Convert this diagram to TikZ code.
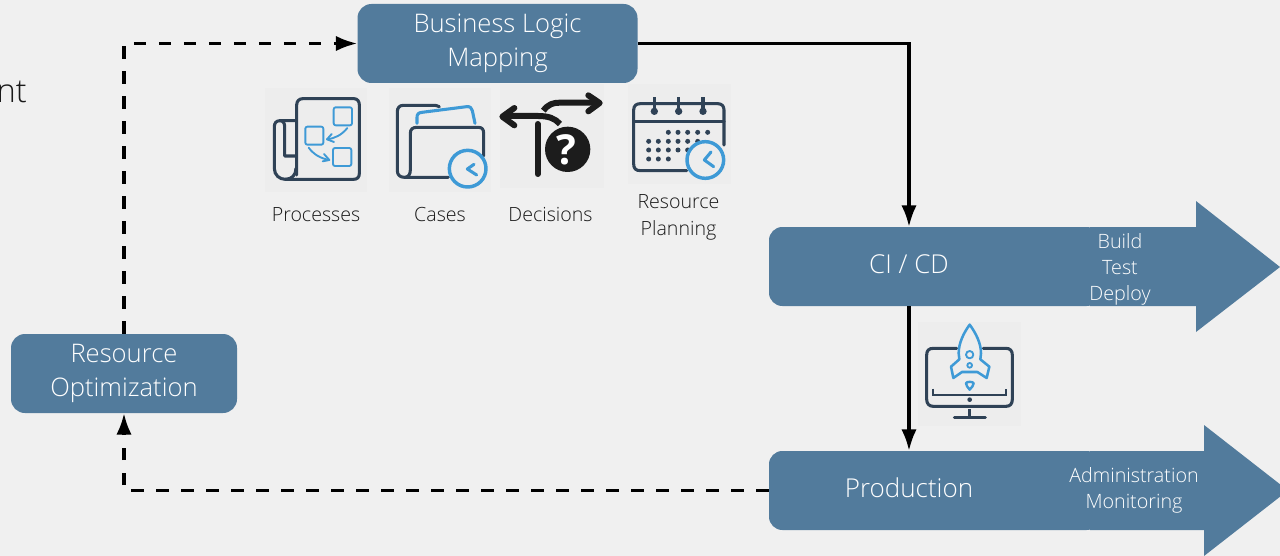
\documentclass[tikz,border=0pt]{standalone}
\usepackage{fontspec}
\setmainfont{Open Sans Light}
\newfontfamily\qmarkfont{Open Sans}[UprightFont=* Bold]
\usetikzlibrary{arrows.meta,patterns}
\definecolor{bg}{HTML}{F0F0F0}
\definecolor{band}{HTML}{527B9C}
\definecolor{ink}{HTML}{2F4256}
\definecolor{sky}{HTML}{3E9AD6}
\definecolor{blackish}{HTML}{1C1C1C}
\definecolor{tile}{HTML}{EDEDED}
\tikzset{
 x=0.75pt,y=-0.75pt,
 box/.style={fill=band,rounded corners=10.5pt,text=white,minimum width=210pt,minimum height=59.25pt,inner sep=0pt,align=center,font=\fontsize{19.2}{25.5}\selectfont},
 bandbody/.style={minimum width=210pt,minimum height=59.25pt,inner sep=0pt},
 bandlabel/.style={text=white,inner sep=0pt,font=\fontsize{19.5}{25}\selectfont},
 bandfill/.style={fill=band},
 smalltext/.style={text=white,align=center,font=\fontsize{14.8}{19.5}\selectfont,inner sep=0pt},
 caption/.style={text=black!90,align=center,font=\fontsize{14.7}{20}\selectfont,inner sep=0pt},
 solidflow/.style={draw=black,line width=2.3pt,-{Latex[length=16pt,width=11.5pt]}},
 dashflow/.style={draw=black,line width=2.3pt,dash pattern=on 9.5pt off 9.25pt,-{Latex[length=16pt,width=11.5pt]}},
 tileback/.style={fill=tile},
 inkline/.style={draw=ink,line width=2.3pt,line cap=round,line join=round},
 skyline/.style={draw=sky,line width=1.4pt,line cap=round,line join=round},
 skythick/.style={draw=sky,line width=2.3pt,line cap=round,line join=round},
 blackline/.style={draw=blackish,line width=4.5pt,line join=round},
}
\begin{document}
\begin{tikzpicture}
\useasboundingbox (0,0) rectangle (1280,556);
\clip (0,0) rectangle (1280,556);
\fill[bg] (0,0) rectangle (1280,556);
% clipped word
\node[anchor=base east,inner sep=0pt,text=black!90,font=\fontsize{24.5}{28}\selectfont] (cut) at (27,103) {nt};
% bands
\fill[bandfill,rounded corners=10pt] (1100,227) -- (769,227) -- (769,306) -- (1100,306) -- cycle;
\fill[bandfill] (1090,227) -- (1196,227) -- (1196,201) -- (1280,267) -- (1196,332) -- (1196,306) -- (1090,306) -- cycle;
\fill[bandfill,rounded corners=10pt] (1100,451) -- (769,451) -- (769,530) -- (1100,530) -- cycle;
\fill[bandfill] (1090,451) -- (1204,451) -- (1204,425) -- (1288,490.5) -- (1204,556) -- (1204,530) -- (1090,530) -- cycle;
\node[bandbody] (cicd) at (909,266.5) {};
\node[bandbody] (prod) at (909,490.5) {};
\node[bandlabel] (cilabel) at (909,264.5) {CI / CD};
\node[bandlabel] (prodlabel) at (909,487.8) {Production};
\node[smalltext] (cilist) at (1120,269) {Build\\Test\\Deploy};
\node[smalltext] (prodlist) at (1134,490) {Administration\\Monitoring};
% boxes
\node[box] (bl) at (497.5,43.5) {\raisebox{0.75pt}{\parbox{200pt}{\centering Business Logic\\Mapping}}};
\node[box,minimum width=169.5pt] (res) at (124,373.5) {\raisebox{0.75pt}{\parbox{160pt}{\centering Resource\\Optimization}}};
% connectors
\coordinate (blturn) at (cicd.north |- bl.east);
\coordinate (prodturn) at (res.south |- prod.west);
\coordinate (resturn) at (res.north |- bl.west);
\draw[solidflow] (bl.east) -- (blturn) -- (cicd.north);
\draw[solidflow] (cicd.south) -- (prod.north);
\draw[dashflow] (prod.west) -- (prodturn) -- (res.south);
\draw[dashflow] (res.north) -- (resturn) -- (bl.west);
% tiles
\fill[tileback] (265,88) rectangle (367,192);
\fill[tileback] (389,88) rectangle (491,192);
\fill[tileback] (500,84) rectangle (604,188);
\fill[tileback] (628,84) rectangle (731,184);
\fill[tileback] (918,322) rectangle (1021,426);
% Processes icon
\begin{scope}[shift={(260,80)},scale=1/3]
 \draw[inkline] (110,285) -- (110,75) .. controls (110,63) and (118,56) .. (128,56) -- (282,56) .. controls (293,56) and (298,65) .. (298,75) -- (298,280) .. controls (298,292) and (292,298) .. (280,298) -- (76,298);
 \draw[inkline] (108,122) -- (60,122) .. controls (48,122) and (43,130) .. (43,140) -- (43,265) .. controls (43,285) and (58,298) .. (76,298) .. controls (95,298) and (108,285) .. (108,265);
 \draw[inkline] (60,122) .. controls (70,122) and (74,130) .. (74,140) -- (74,228) -- (108,228);
 \draw[skyline,rounded corners=1.5pt] (221,82) rectangle (276,136);
 \draw[skyline,rounded corners=1.5pt] (136,140) rectangle (190,194);
 \draw[skyline,rounded corners=1.5pt] (219,204) rectangle (274,258);
 \draw[skyline] (262,144) .. controls (245,165) and (225,175) .. (201,178);
 \draw[skyline] (215,162) -- (201,178) -- (222,186);
 \draw[skyline] (146,203) .. controls (160,222) and (180,235) .. (208,240);
 \draw[skyline] (192,222) -- (208,240) -- (188,244);
\end{scope}
% Cases icon
\begin{scope}[shift={(260,80)},scale=1/3]
 \draw[inkline] (538,80) .. controls (530,76) and (525,76) .. (520,76) -- (430,76) .. controls (418,76) and (412,84) .. (412,95) -- (412,272) .. controls (412,285) and (420,292) .. (434,292) -- (565,292);
 \draw[inkline] (436,292) .. controls (446,290) and (451,282) .. (451,270) -- (451,160) .. controls (451,148) and (458,142) .. (470,142) -- (655,142) .. controls (666,142) and (671,148) .. (671,160) -- (671,228);
 \draw[skythick] (471,130) -- (471,112) .. controls (471,102) and (476,98) .. (486,97) -- (620,80) .. controls (630,79) and (636,84) .. (637,92) -- (645,130);
 \draw[skythick,fill=tile,line width=2.6pt] (623,266) circle (55);
 \draw[skythick] (642,253) -- (622,267) -- (650,285);
\end{scope}
% Decisions icon
\begin{scope}[shift={(495,80)},scale=1/3]
 \draw[blackline] (145,92) .. controls (160,72) and (175,68) .. (195,68) -- (310,68);
 \draw[blackline,line cap=round] (280,46) -- (314,69) -- (280,94);
 \draw[blackline] (195,132) .. controls (180,115) and (160,108) .. (130,108) -- (25,108);
 \draw[blackline,line cap=round] (58,84) -- (22,110) -- (58,136);
 \draw[blackish,line width=4.5pt,line cap=round] (128,132) -- (128,282);
 \fill[blackish] (218,208) circle (68);
 \node[text=white,font=\qmarkfont\fontsize{31}{31}\selectfont,inner sep=0pt] (qm) at (215,210) {?};
\end{scope}
% Resource Planning icon
\begin{scope}[shift={(495,80)},scale=1/3]
 \draw[inkline] (575,272) -- (436,272) .. controls (422,272) and (416,265) .. (416,252) -- (416,90) .. controls (416,77) and (424,71) .. (436,71) -- (668,71) .. controls (680,71) and (687,78) .. (687,90) -- (687,195);
 \draw[inkline] (416,124) -- (687,124);
 \foreach \cx in {478,551,624}{
  \draw[ink,line width=2.3pt] (\cx,52) -- (\cx,92);
  \fill[ink] (\cx,94) circle (11);
 }
 \foreach \cx in {520,549,578,608,638}{\fill[ink] (\cx,157) circle (7.5);}
 \foreach \cx in {461,490,520,549,578,608}{\fill[ink] (\cx,184) circle (7.5);}
 \foreach \cx in {461,490,520,549,578}{\fill[ink] (\cx,210) circle (7.5);}
 \foreach \cx in {461,490,520}{\fill[ink] (\cx,237) circle (7.5);}
 \draw[skythick,fill=tile,line width=2.6pt] (631,240) circle (55);
 \draw[skythick] (648,216) -- (628,240) -- (656,260);
\end{scope}
% Rocket icon
\begin{scope}[shift={(900,310)},scale=1/3]
 \draw[inkline] (170,115) -- (100,115) .. controls (86,115) and (80,122) .. (80,135) -- (80,268) .. controls (80,282) and (88,289) .. (100,289) -- (318,289) .. controls (330,289) and (337,282) .. (337,268) -- (337,135) .. controls (337,122) and (330,115) .. (318,115) -- (250,115);
 \draw[ink,line width=1.3pt] (100,236) -- (100,254) -- (317,254) -- (317,236);
 \fill[ink] (209,269) circle (7);
 \draw[ink,line width=2pt] (209,298) -- (209,322);
 \draw[inkline] (163,323) -- (256,323);
 \draw[skythick,line width=1.9pt] (209,44) .. controls (190,70) and (176,100) .. (176,130) -- (178,148) -- (153,170) -- (160,204) -- (186,186) -- (232,186) -- (260,204) -- (268,170) -- (241,148) -- (243,130) .. controls (243,100) and (228,70) .. (209,44) -- cycle;
 \draw[skyline] (209,134) circle (11);
 \draw[skyline] (209,166) circle (7);
 \draw[skyline,line width=1.8pt] (209,239) .. controls (203,232) and (198,226) .. (198,220) .. controls (198,214) and (220,214) .. (221,220) .. controls (221,226) and (215,232) .. (209,239) -- cycle;
\end{scope}
% captions
\node[caption] (c1) at (316,214.5) {Processes};
\node[caption] (c2) at (440,214.5) {Cases};
\node[caption] (c3) at (550.5,214.5) {Decisions};
\node[caption] (c4) at (678.5,217.5) {Resource\\Planning};
\end{tikzpicture}
\end{document}
